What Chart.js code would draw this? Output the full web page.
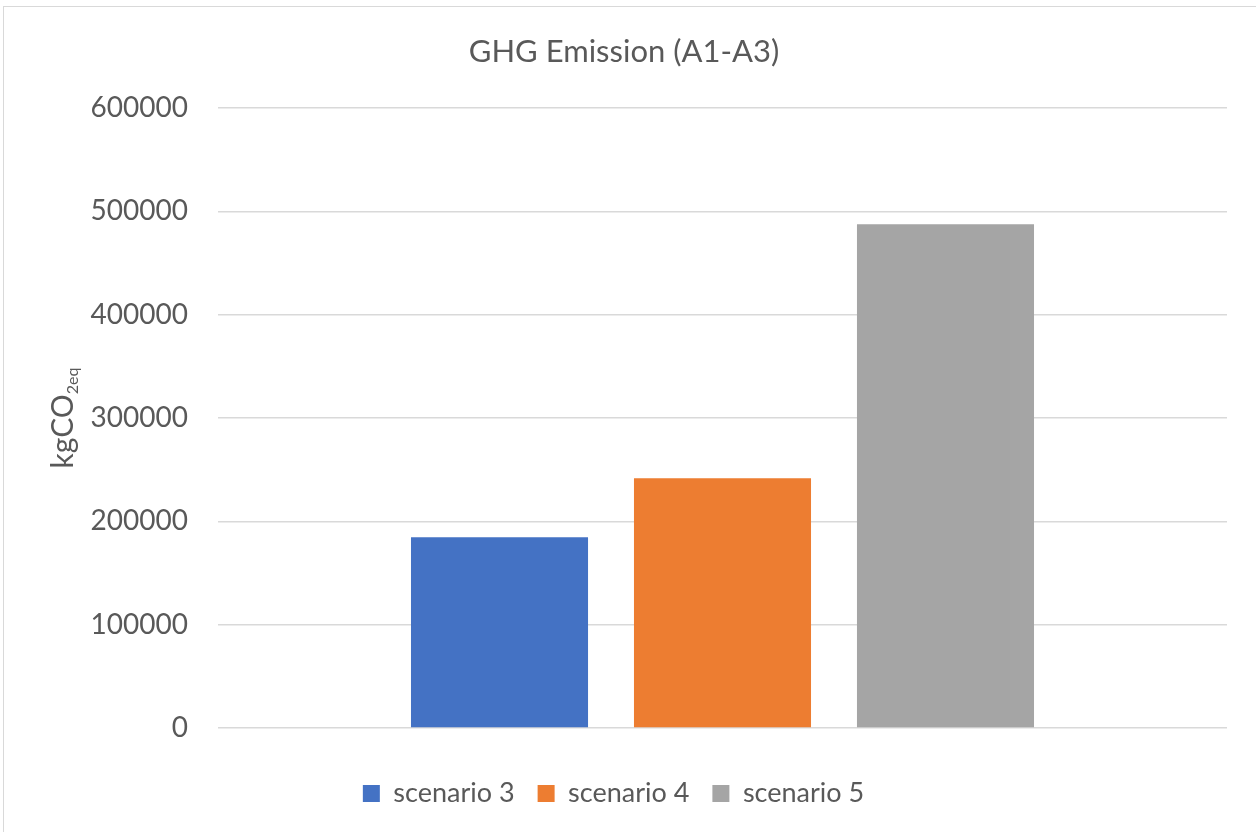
<!DOCTYPE html>
<html>
<head>
<meta charset="utf-8">
<title>GHG Emission (A1-A3)</title>
<script src="https://cdn.jsdelivr.net/npm/chart.js@4.4.1/dist/chart.umd.min.js"></script>
<style>
  html, body { margin: 0; padding: 0; background: #ffffff; }
  #wrap { position: relative; width: 1256px; height: 832px; overflow: hidden; }
  #frame { position: absolute; left: 3px; top: 6px; width: 1260px; height: 840px;
           border-left: 1px solid #d9d9d9; border-top: 1px solid #d9d9d9; box-sizing: border-box; }
  canvas { position: absolute; left: 0; top: 0; }
</style>
</head>
<body>
<div id="wrap">
  <div id="frame"></div>
  <canvas id="chart" width="1256" height="832"></canvas>
</div>
<script>
// Emission totals per scenario (kg CO2-equivalent)
const categories = [''];
const seriesNames = ['scenario 3', 'scenario 4', 'scenario 5'];
const seriesValues = [184500, 241700, 487400];
const seriesColors = ['#4472c4', '#ed7d31', '#a5a5a5'];
const yTicks = [0, 100000, 200000, 300000, 400000, 500000, 600000];
const chartTitle = 'GHG Emission (A1-A3)';

const FONT = 'Lato, "Open Sans", sans-serif';
const TEXT = '#595959';

// Chart heading, centred on the whole frame rather than the padded layout box
const headingPlugin = {
  id: 'heading',
  afterDraw(chart) {
    const ctx = chart.ctx;
    ctx.save();
    ctx.fillStyle = TEXT;
    ctx.font = '31px ' + FONT;
    ctx.textAlign = 'center';
    ctx.textBaseline = 'middle';
    ctx.fillText(chartTitle, 624, 52);
    ctx.restore();
  }
};

// Rotated axis title with subscript part: kgCO₂eq
const yTitlePlugin = {
  id: 'yTitle',
  afterDraw(chart) {
    const ctx = chart.ctx;
    const a = chart.chartArea;
    const main = 'kgCO', sub = '2eq';
    ctx.save();
    ctx.fillStyle = TEXT;
    ctx.font = '30px ' + FONT;
    const wMain = ctx.measureText(main).width;
    ctx.font = '16px ' + FONT;
    const wSub = ctx.measureText(sub).width;
    const total = wMain + wSub;
    ctx.translate(73, (a.top + a.bottom) / 2);
    ctx.rotate(-Math.PI / 2);
    ctx.textBaseline = 'alphabetic';
    ctx.textAlign = 'left';
    ctx.font = '30px ' + FONT;
    ctx.fillText(main, -total / 2, 0);
    ctx.font = '16px ' + FONT;
    ctx.fillText(sub, -total / 2 + wMain, 5);
    ctx.restore();
  }
};

const datasets = seriesNames.map((name, i) => ({
  label: name,
  data: [seriesValues[i]],
  backgroundColor: seriesColors[i],
  borderWidth: 0,
  barPercentage: 0.794,
  categoryPercentage: 0.663
}));

new Chart(document.getElementById('chart'), {
  type: 'bar',
  data: { labels: categories, datasets },
  options: {
    responsive: false,
    animation: false,
    layout: { padding: { left: 0, right: 29, top: 108, bottom: 15 } },
    plugins: {
      title: { display: false },
      legend: {
        position: 'bottom',
        labels: {
          color: TEXT,
          font: { family: FONT, size: 27 },
          boxWidth: 17,
          boxHeight: 17,
          padding: 23
        }
      },
      tooltip: { enabled: false }
    },
    scales: {
      x: {
        grid: { display: false },
        border: { display: false },
        ticks: { display: false },
        afterFit(scale) { scale.height = 29; }
      },
      y: {
        min: 0,
        max: 600000,
        afterBuildTicks(scale) { scale.ticks = yTicks.map(v => ({ value: v })); },
        afterFit(scale) { scale.width = 218; },
        grid: { color: '#d9d9d9', lineWidth: 1.5, drawTicks: false },
        border: { display: false },
        ticks: {
          color: TEXT,
          font: { family: FONT, size: 28 },
          padding: 30,
          callback: v => String(v)
        }
      }
    }
  },
  plugins: [headingPlugin, yTitlePlugin]
});
</script>
</body>
</html>
